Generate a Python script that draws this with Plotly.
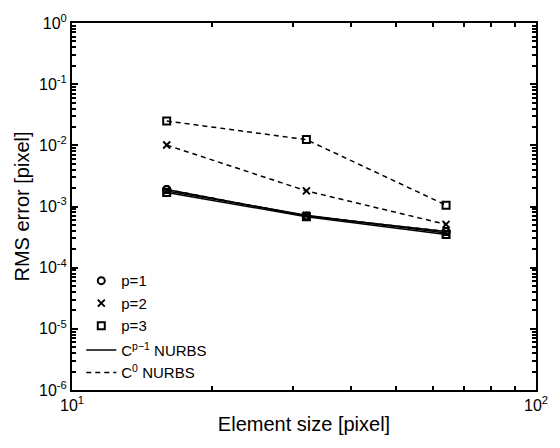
import plotly.graph_objects as go

element_size = [16, 32, 64]

# C^{p-1} NURBS (solid)
solid_p1 = [0.0019, 0.00070, 0.00039]
solid_p2 = [0.0018, 0.00072, 0.00037]
solid_p3 = [0.0017, 0.00068, 0.00035]

# C^0 NURBS (dashed)
dash_p1 = [0.0019, 0.00070, 0.00039]
dash_p2 = [0.0101, 0.0018, 0.00051]
dash_p3 = [0.025, 0.0124, 0.00105]

y_tickvals = [1e-6, 1e-5, 1e-4, 1e-3, 1e-2, 1e-1, 1]
y_ticktext = ["10<sup>-6</sup>", "10<sup>-5</sup>", "10<sup>-4</sup>", "10<sup>-3</sup>",
              "10<sup>-2</sup>", "10<sup>-1</sup>", "10<sup>0</sup>"]
x_tickvals = [10, 100]
x_ticktext = ["10<sup>1</sup>", "10<sup>2</sup>"]

x_minor = [m * 10 for m in range(2, 10)]
y_minor = [m * 10.0 ** e for e in range(-6, 0) for m in range(2, 10)]

symbols = ["circle-open", "x-thin-open", "square-open"]
labels = ["p=1", "p=2", "p=3"]
DASH = "5px,4px"

fig = go.Figure()

def add(y, sym, dash, width):
    fig.add_trace(go.Scatter(
        x=element_size, y=y, mode="lines+markers",
        line=dict(color="black", width=width, dash=dash),
        marker=dict(symbol=sym, size=7, color="black", line=dict(width=2, color="black")),
        showlegend=False))

add(dash_p1, symbols[0], DASH, 1.5)
add(dash_p2, symbols[1], DASH, 1.5)
add(dash_p3, symbols[2], DASH, 1.5)
add(solid_p1, symbols[0], "solid", 1.5)
add(solid_p2, symbols[1], "solid", 1.5)
add(solid_p3, symbols[2], "solid", 1.5)

# legend entries
for sym, lab in zip(symbols, labels):
    fig.add_trace(go.Scatter(x=[None], y=[None], mode="markers", name=lab, legend="legend",
                             marker=dict(symbol=sym, size=7, color="black",
                                         line=dict(width=2, color="black"))))
fig.add_trace(go.Scatter(x=[None], y=[None], mode="lines", name="C<sup>p\u22121</sup> NURBS",
                         legend="legend2",
                         line=dict(color="black", width=1.5, dash="solid")))
fig.add_trace(go.Scatter(x=[None], y=[None], mode="lines", name="C<sup>0</sup> NURBS",
                         legend="legend2",
                         line=dict(color="black", width=1.5, dash=DASH)))

# invisible trace on overlay axes used for minor ticks
fig.add_trace(go.Scatter(x=[None], y=[None], xaxis="x2", yaxis="y2", showlegend=False,
                         hoverinfo="skip"))

axis_common = dict(showline=True, linecolor="black", linewidth=2, mirror="ticks",
                   ticks="inside", ticklen=6, tickwidth=1.5, tickcolor="black",
                   showgrid=False, zeroline=False, tickfont=dict(size=16, color="black"))

fig.update_layout(
    xaxis=dict(type="log", range=[1, 2], tickmode="array", tickvals=x_tickvals,
               ticktext=x_ticktext,
               title=dict(text="Element size [pixel]", font=dict(size=20, color="black"),
                          standoff=4),
               **axis_common),
    yaxis=dict(type="log", range=[-6, 0], tickmode="array", tickvals=y_tickvals,
               ticktext=y_ticktext,
               title=dict(text="RMS error [pixel]", font=dict(size=20, color="black"),
                          standoff=4),
               **axis_common),
    xaxis2=dict(type="log", range=[1, 2], overlaying="x", anchor="y2", side="bottom",
                tickmode="array", tickvals=x_minor, ticks="inside", ticklen=4, tickwidth=1.5,
                tickcolor="black", showticklabels=False, showline=True, linecolor="black",
                linewidth=2, mirror="ticks", showgrid=False, zeroline=False),
    yaxis2=dict(type="log", range=[-6, 0], overlaying="y", anchor="x2", side="left",
                tickmode="array", tickvals=y_minor, ticks="inside", ticklen=4, tickwidth=1.5,
                tickcolor="black", showticklabels=False, showline=True, linecolor="black",
                linewidth=2, mirror="ticks", showgrid=False, zeroline=False),
    width=560, height=448,
    margin=dict(l=72, r=16, t=18, b=58),
    paper_bgcolor="white", plot_bgcolor="white",
    font=dict(family="Liberation Sans, Arial, sans-serif", color="black"),
    legend=dict(x=0.02, y=0.236, xanchor="left", yanchor="middle",
                bgcolor="rgba(0,0,0,0)", font=dict(size=15, color="black"),
                tracegroupgap=0, itemwidth=30),
    legend2=dict(x=0.02, y=0.078, xanchor="left", yanchor="middle",
                 bgcolor="rgba(0,0,0,0)", font=dict(size=15, color="black"),
                 tracegroupgap=0, itemwidth=30),
)

fig.write_html("out.html")
